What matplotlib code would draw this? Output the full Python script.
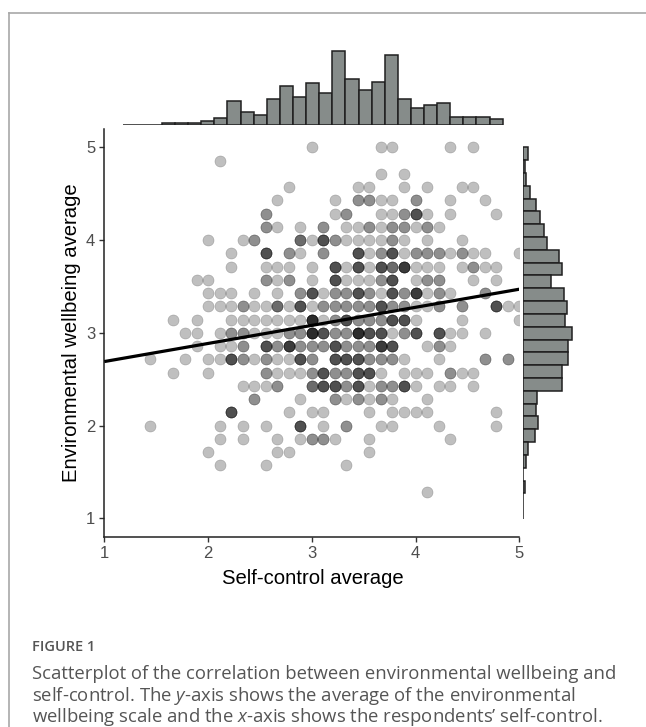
import numpy as np
import matplotlib.pyplot as plt
from matplotlib.lines import Line2D

plt.rcParams['font.family'] = ['Liberation Sans', 'DejaVu Sans']
plt.rcParams['mathtext.fontset'] = 'custom'
plt.rcParams['mathtext.rm'] = 'Open Sans'
plt.rcParams['mathtext.it'] = 'Open Sans:italic'

# Environmental wellbeing = mean of 7 items, self-control = mean of 9 items.
# Each row: wellbeing sum score -> {self-control sum score: respondents}
ew_sum = [35, 34, 33, 32, 31, 30, 29, 28, 27, 26, 25, 24, 23, 22, 21, 20,
          19, 18, 17, 16, 15, 14, 13, 12, 11, 9]
sc_freq = [
    {27: 1, 33: 1, 34: 1, 39: 1, 41: 1},
    {19: 1},
    {33: 1, 35: 1},
    {25: 1, 31: 1, 32: 1, 35: 1, 37: 1, 40: 1, 41: 1},
    {24: 1, 29: 1, 31: 2, 32: 2, 33: 1, 34: 1, 36: 2, 39: 1, 42: 1},
    {23: 2, 29: 1, 30: 2, 33: 1, 34: 1, 35: 2, 36: 4, 37: 1, 39: 1, 43: 1},
    {23: 2, 24: 1, 26: 1, 28: 2, 30: 1, 31: 1, 32: 2, 33: 1, 34: 2, 35: 2,
     36: 1, 37: 2, 38: 1},
    {18: 1, 21: 1, 22: 2, 26: 3, 27: 1, 28: 4, 29: 2, 30: 1, 31: 1, 32: 1,
     33: 1, 34: 2, 35: 1, 37: 1, 40: 1},
    {20: 1, 23: 4, 25: 2, 26: 1, 28: 2, 31: 4, 32: 1, 33: 2, 34: 4, 35: 1,
     36: 2, 37: 2, 38: 2, 39: 1, 40: 2, 41: 1, 42: 1, 45: 1},
    {20: 1, 23: 1, 24: 1, 25: 1, 27: 1, 29: 4, 30: 1, 31: 4, 32: 1, 33: 4,
     34: 3, 35: 5, 36: 1, 37: 1, 38: 1, 40: 1, 41: 2, 42: 1, 43: 1},
    {17: 1, 18: 1, 23: 2, 24: 1, 25: 2, 27: 1, 29: 4, 30: 1, 31: 1, 32: 1,
     33: 2, 34: 4, 36: 1, 37: 2, 38: 2, 41: 1, 43: 1},
    {18: 1, 19: 1, 20: 1, 22: 1, 24: 1, 26: 2, 27: 4, 28: 1, 29: 2, 30: 2,
     31: 4, 32: 2, 33: 1, 34: 4, 35: 2, 36: 5, 37: 1, 38: 2, 39: 1, 42: 2},
    {18: 1, 19: 1, 20: 1, 21: 2, 22: 1, 23: 1, 24: 3, 25: 1, 26: 4, 27: 1,
     28: 2, 29: 2, 30: 2, 31: 2, 32: 2, 33: 4, 34: 2, 35: 2, 36: 1, 37: 1,
     38: 2, 40: 2, 43: 4, 44: 1, 45: 1},
    {15: 1, 17: 1, 20: 1, 21: 1, 22: 1, 23: 1, 24: 1, 25: 1, 26: 1, 27: 6,
     28: 1, 29: 2, 30: 4, 31: 2, 32: 2, 33: 2, 34: 4, 35: 4, 36: 1, 40: 1,
     45: 1},
    {16: 1, 17: 1, 19: 1, 20: 2, 21: 2, 22: 1, 23: 1, 24: 1, 25: 2, 26: 2,
     27: 6, 28: 4, 29: 2, 30: 2, 31: 6, 32: 4, 33: 4, 34: 1, 35: 2, 36: 4,
     38: 4, 39: 1, 40: 1, 42: 1},
    {17: 1, 19: 1, 20: 1, 21: 2, 23: 4, 24: 2, 25: 5, 26: 2, 27: 2, 28: 2,
     29: 4, 30: 2, 31: 2, 32: 2, 33: 5, 34: 4, 37: 1, 38: 2, 39: 1},
    {13: 1, 16: 1, 18: 1, 19: 1, 20: 4, 21: 2, 22: 1, 23: 2, 24: 1, 25: 1,
     26: 4, 27: 2, 29: 4, 30: 4, 31: 4, 32: 2, 33: 2, 34: 2, 35: 1, 38: 1,
     42: 2, 44: 2},
    {15: 1, 18: 1, 23: 2, 24: 1, 25: 1, 26: 1, 27: 2, 28: 4, 29: 2, 30: 2,
     31: 4, 32: 4, 33: 1, 35: 1, 36: 1, 37: 1, 39: 2, 40: 1, 41: 1},
    {21: 1, 22: 1, 23: 1, 24: 2, 27: 3, 28: 4, 29: 4, 30: 2, 31: 4, 32: 1,
     33: 2, 34: 2, 35: 4, 36: 1, 38: 1, 39: 1, 41: 1},
    {22: 2, 26: 1, 29: 2, 30: 1, 31: 2, 32: 1, 33: 2, 34: 1, 37: 1},
    {20: 4, 25: 1, 27: 1, 28: 1, 32: 1, 34: 1, 35: 1, 36: 1, 37: 1, 43: 1},
    {13: 1, 19: 1, 21: 1, 23: 1, 26: 4, 28: 1, 30: 2, 33: 1, 34: 1, 38: 1,
     43: 1},
    {19: 1, 21: 1, 24: 1, 26: 1, 27: 2, 28: 2, 29: 1, 32: 1, 39: 1},
    {18: 1, 24: 1, 25: 1, 32: 1},
    {19: 1, 23: 1, 30: 1},
    {37: 1},
]

# regression line (read at x = 1 and x = 5)
fit_x = [1, 5]
fit_y = [2.69, 3.47]

# marginal histograms
sc_bin_start, sc_bin_w = 1.177, 0.1263
sc_hist = [0, 0, 0, 2, 2, 2, 4, 7, 24, 13, 10, 26, 39, 28, 42, 32, 74, 46,
           35, 43, 70, 26, 17, 20, 22, 8, 8, 8, 6]
ew_bin_top, ew_bin_w = 5.0, 0.1382
ew_hist = [5, 2, 3, 7, 13, 17, 21, 24, 36, 39, 28, 41, 44, 42, 49, 45, 45,
           39, 39, 14, 13, 15, 12, 5, 3, 0, 2, 0, 0]

W, H = 646, 727
def fx(px):
    return px / W
def fy(py):
    return 1 - py / H

fig = plt.figure(figsize=(W / 100, H / 100), dpi=100)

# main scatter
left, right, top, bottom = 104.3, 519.3, 128.75, 536.85
ax = fig.add_axes([fx(left), fy(bottom), (right - left) / W, (bottom - top) / H])
xs, ys = [], []
for s_ew, row in zip(ew_sum, sc_freq):
    for s_sc, n in row.items():
        xs += [s_sc / 9] * n
        ys += [s_ew / 7] * n
ax.scatter(xs, ys, s=64, c='black', alpha=0.25, linewidths=0.4,
           edgecolors='black', zorder=2)
ax.plot(fit_x, fit_y, color='black', lw=2.3, solid_capstyle='butt', zorder=3)
ax.set_xlim(1, 5)
ax.set_ylim(0.8, 5.2)
ax.set_xticks([1, 2, 3, 4, 5])
ax.set_yticks([1, 2, 3, 4, 5])
for s in ['top', 'right']:
    ax.spines[s].set_visible(False)
for s in ['left', 'bottom']:
    ax.spines[s].set_linewidth(1.1)
    ax.spines[s].set_color('#222222')
ax.tick_params(direction='out', length=3.5, width=1, color='#333333',
               labelcolor='#4d4d4d', labelsize=12, pad=3)
ax.patch.set_alpha(0)

fig.text(fx(313), fy(578), 'Self-control average', fontsize=14.6,
         ha='center', va='center', color='black')
fig.text(fx(72), fy(333), 'Environmental wellbeing average', fontsize=14.6,
         ha='center', va='center', rotation=90, color='black')

# top marginal histogram
bar_fc, bar_ec = '#868c8a', '#1f1f1f'
axt = fig.add_axes([fx(left), fy(125), (right - left) / W, 80 / H])
sc_edges = sc_bin_start + sc_bin_w * np.arange(len(sc_hist))
axt.bar(sc_edges, sc_hist, width=sc_bin_w, align='edge', color=bar_fc,
        edgecolor=bar_ec, linewidth=1.1)
axt.set_xlim(1, 5)
axt.set_ylim(0, 80)
axt.axis('off')

# right marginal histogram
axr = fig.add_axes([fx(523.3), fy(bottom), 80 / W, (bottom - top) / H])
ew_edges = ew_bin_top - ew_bin_w * np.arange(1, len(ew_hist) + 1)
axr.barh(ew_edges, ew_hist, height=ew_bin_w, align='edge', color=bar_fc,
         edgecolor=bar_ec, linewidth=1.1)
axr.set_ylim(0.8, 5.2)
axr.set_xlim(0, 80)
axr.axis('off')

# frame and caption
fig.add_artist(Line2D([fx(8.5), 1], [fy(13.3), fy(13.3)], transform=fig.transFigure,
                      color='#a8a8a8', lw=1.2))
fig.add_artist(Line2D([fx(8.5), fx(8.5)], [fy(13.3), 0], transform=fig.transFigure,
                      color='#a8a8a8', lw=1.2))

cap_font = ['Open Sans', 'DejaVu Sans']
fig.text(fx(32), fy(647), 'FIGURE 1', fontsize=10.5, color='#555555',
         weight='semibold', family=cap_font, va='center')
caption = [
    'Scatterplot of the correlation between environmental wellbeing and',
    'self-control. The $y$-axis shows the average of the environmental',
    'wellbeing scale and the $x$-axis shows the respondents\u2019 self-control.',
]
for i, line in enumerate(caption):
    fig.text(fx(32), fy(674 + 21.7 * i), line, fontsize=13.3, color='#555555',
             family=cap_font, va='center')

plt.savefig('out.png', dpi=100)
